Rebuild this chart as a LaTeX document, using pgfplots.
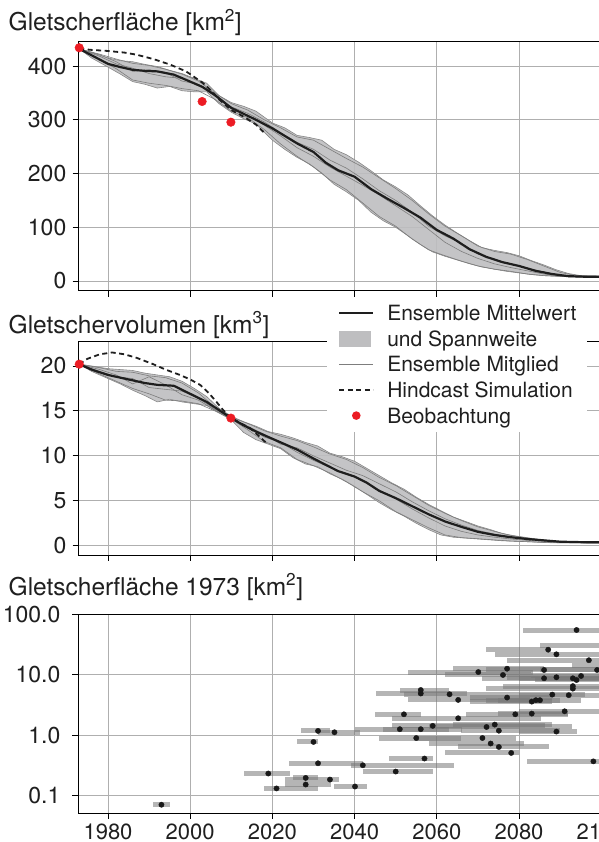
\documentclass[border=0pt]{standalone}
\usepackage{fontspec}
\setmainfont{TeX Gyre Heros}
\usepackage{pgfplots}
\pgfplotsset{compat=1.18}
\usepackage{pgfplotstable}
\usepgfplotslibrary{fillbetween}

\definecolor{meanc}{RGB}{30,30,30}
\definecolor{bandc}{RGB}{190,190,192}
\definecolor{edgec}{RGB}{135,135,135}
\definecolor{memc}{RGB}{125,125,125}
\definecolor{gridc}{RGB}{175,175,175}
\definecolor{obsc}{RGB}{236,28,36}
\definecolor{barc}{RGB}{120,120,120}
\definecolor{dotc}{RGB}{25,25,25}

% ---------- top panel: area ----------
\pgfplotstableread{
x y
1973 432
1976 420
1980 404
1983 398
1986 393
1989 391
1992 390
1996 384
2000 371
2003 361
2006 346
2010 322
2013 311
2016 300
2020 284
2023 270
2026 256
2030 240
2033 220
2036 206
2040 194
2044 171
2048 153
2052 136
2056 118
2060 95
2064 79
2068 59
2072 45
2076 35
2080 28
2084 19
2088 13
2092 9
2096 8
2100 8
}\Amean

\pgfplotstableread{
x up lo
1973 432 432
1976 425 415
1980 415 398
1983 410 385
1986 408 371
1989 403 366
1992 399 359
1995 392 362
1998 386 354
2001 377 352
2004 368 352
2007 345 330
2010 332 314
2013 325 302
2016 316 292
2020 294 262
2023 285 245
2026 271 230
2029 267 218
2032 262 201
2035 245 180
2038 235 166
2041 221 150
2044 205 128
2047 188 112
2050 175 100
2053 160 84
2056 140 68
2059 121 54
2062 104 46
2065 89 39
2068 75 32
2071 62 26
2074 57 22
2077 53 18
2080 47 15
2083 38 12
2086 30 10
2089 21 9
2092 14 8
2095 10 7.5
2100 9 7
}\Aband

\pgfplotstableread{
x a b c d
1973 432 432 432 432
1978 422 412 418 421
1982 413 395 404 408
1986 405 374 396 390
1990 401 368 386 393
1994 394 364 380 388
1998 385 358 377 372
2002 372 354 365 366
2006 350 338 344 348
2010 330 316 324 322
2014 318 304 312 308
2018 300 282 296 290
2022 285 255 276 270
2026 268 232 258 248
2030 262 212 245 232
2034 245 188 225 212
2038 228 170 210 195
2042 212 145 190 178
2046 192 120 168 160
2050 172 102 150 140
2054 150 78 128 120
2058 125 58 102 96
2062 102 47 84 72
2066 84 37 70 55
2070 65 28 50 42
2074 55 22 40 32
2078 50 18 32 25
2082 40 13 24 19
2086 28 10 17 13
2090 16 8.5 11 9.5
2094 10 7.5 8.5 8
2100 9 7 8 8
}\Amem

\pgfplotstableread{
x y
1973 432
1976 430
1980 428
1984 425
1987 421
1991 413
1995 403
1999 390
2003 369
2005 355
2007 338
2010 318
2012 310
2014 301
2016 291
2018 276
}\Ahind

\pgfplotstableread{
x y
1973 434
2002.9 334
2009.9 295.5
}\Aobs

% ---------- middle panel: volume ----------
\pgfplotstableread{
x y
1973 20.2
1976 19.6
1980 19.0
1983 18.7
1986 18.4
1989 18.1
1992 17.9
1996 17.8
2000 16.9
2004 16.0
2007 15.1
2010 14.2
2013 13.4
2016 12.7
2020 11.9
2023 11.3
2026 10.7
2030 9.7
2033 9.0
2036 8.3
2040 7.7
2043 7.0
2046 6.1
2050 5.3
2054 4.4
2058 3.5
2062 2.7
2066 2.1
2070 1.55
2074 1.2
2078 0.95
2082 0.75
2086 0.6
2090 0.45
2095 0.4
2100 0.38
}\Vmean

\pgfplotstableread{
x up lo
1973 20.2 20.2
1976 20.0 19.4
1980 19.7 18.6
1983 19.6 18.0
1986 19.5 17.3
1989 19.2 16.7
1992 19.0 16.0
1995 18.8 16.3
1998 18.3 16.0
2001 17.5 15.8
2004 16.6 15.6
2007 15.3 14.8
2010 14.4 14.0
2013 13.8 12.6
2016 13.3 11.8
2019 12.7 11.3
2022 12.4 10.8
2025 12.0 9.8
2028 11.5 9.1
2031 11.1 8.8
2034 10.3 8.0
2037 9.9 7.4
2040 9.4 6.6
2043 8.6 5.7
2046 7.8 4.8
2049 7.0 4.0
2052 6.3 3.3
2055 5.4 2.5
2058 4.6 1.8
2061 3.9 1.2
2064 3.2 0.95
2067 2.7 0.85
2070 2.2 0.75
2073 1.8 0.65
2076 1.35 0.55
2079 1.1 0.5
2082 0.9 0.45
2085 0.7 0.38
2088 0.55 0.33
2092 0.45 0.32
2100 0.4 0.3
}\Vband

\pgfplotstableread{
x a b c d
1973 20.2 20.2 20.2 20.2
1978 19.8 19.1 19.4 19.6
1982 19.4 18.3 18.8 19.0
1986 19.3 17.5 18.6 18.0
1990 18.9 16.9 17.6 18.8
1994 18.7 16.2 17.4 17.9
1998 18.1 16.1 17.2 16.8
2002 17.0 15.8 16.4 16.2
2006 15.4 15.0 15.2 15.1
2010 14.3 14.1 14.2 14.1
2014 13.6 12.9 13.2 13.3
2018 12.8 11.6 12.1 12.4
2022 12.2 10.9 11.5 11.3
2026 11.7 9.6 10.4 10.9
2030 11.0 8.9 9.5 10.0
2034 10.2 8.1 8.7 9.2
2038 9.6 7.1 8.0 8.4
2042 8.7 6.0 7.2 7.8
2046 7.6 5.0 6.2 6.9
2050 6.7 3.8 5.2 6.0
2054 5.6 2.9 4.1 4.9
2058 4.5 2.0 3.1 3.9
2062 3.6 1.2 2.2 3.0
2066 2.8 0.9 1.6 2.3
2070 2.1 0.78 1.2 1.7
2074 1.6 0.65 0.95 1.3
2078 1.15 0.52 0.75 1.0
2082 0.85 0.45 0.6 0.75
2086 0.6 0.38 0.5 0.55
2090 0.45 0.33 0.4 0.42
2100 0.4 0.3 0.38 0.38
}\Vmem

\pgfplotstableread{
x y
1973 20.2
1975 20.8
1978 21.3
1981 21.5
1984 21.3
1987 20.9
1991 20.2
1994 19.6
1997.5 19.0
2000 18.5
2002.4 17.9
2004.5 17.0
2006.4 16.0
2008 15.1
2010 14.2
2012 13.7
2014.5 13.1
2016.5 12.3
2018.6 11.4
}\Vhind

\pgfplotstableread{
x y
1973 20.2
2009.9 14.2
}\Vobs

% ---------- bottom panel: individual glaciers ----------
\pgfplotstableread{
x y lo hi
1993.0 0.071 1991.0 1995.1
2019.0 0.233 2013.2 2024.3
2021.0 0.132 2018.0 2031.0
2028.1 0.197 2025.1 2031.0
2028.1 0.153 2023.1 2034.2
2034.0 0.185 2023.1 2036.2
2040.1 0.142 2035.0 2043.0
2031.1 0.344 2024.0 2042.1
2042.0 0.319 2039.1 2064.2
2030.0 0.776 2026.0 2031.0
2031.1 1.18 2027.0 2034.0
2035.1 1.12 2031.2 2041.3
2050.0 0.251 2042.1 2059.0
2052.0 2.22 2045.0 2056.1
2057.0 0.412 2048.3 2059.0
2055.0 0.90 2046.0 2066.0
2065.2 1.91 2049.0 2085.3
2051.0 1.26 2040.1 2066.1
2056.1 1.26 2047.0 2063.0
2059.0 1.43 2049.0 2086.3
2072.1 1.37 2058.0 2093.0
2074.1 1.50 2064.0 2088.0
2075.1 1.19 2066.0 2090.0
2089.1 1.15 2080.0 2094.0
2071.1 0.90 2055.0 2079.3
2073.1 0.73 2058.0 2081.2
2075.1 0.64 2065.2 2087.2
2078.1 0.51 2062.0 2080.0
2098.1 0.37 2082.0 2100.0
2056.1 5.6 2051.0 2063.0
2056.1 4.9 2045.2 2067.3
2063.1 4.76 2052.0 2070.0
2065.2 3.84 2053.0 2082.7
2077.1 4.2 2068.0 2088.0
2083.1 3.6 2068.0 2088.0
2084.1 3.8 2075.0 2090.0
2085.1 3.8 2072.0 2095.0
2088.1 4.7 2070.0 2096.0
2092.1 4.6 2080.0 2100.0
2093.1 5.9 2072.0 2100.0
2093.1 6.5 2076.0 2100.0
2079.1 2.22 2067.0 2092.0
2083.1 2.28 2075.0 2092.0
2091.1 2.49 2080.0 2100.0
2070.1 11.1 2053.0 2083.5
2077.1 12.6 2064.0 2086.0
2076.1 9.93 2062.0 2083.0
2086.1 12.0 2072.0 2100.0
2086.1 8.75 2071.0 2100.0
2089.1 9.1 2077.0 2100.0
2093.1 8.75 2080.0 2100.0
2094.0 8.2 2084.0 2100.0
2095.1 9.55 2083.0 2100.0
2097.0 17.4 2077.0 2100.0
2099.0 12.0 2085.0 2100.0
2087.1 26.0 2072.0 2086.7
2089.1 21.8 2074.2 2100.0
2094.0 55.0 2080.9 2100.0
2102.0 30.7 2085.0 2102.0
2102.0 14.0 2093.0 2102.0
}\Gdata

\pgfplotsset{
  glac/.style={
    scale only axis, width=523.2pt, anchor=north west,
    xmin=1972.7, xmax=2100,
    axis x line*=box, axis y line*=left,
    xtick={1980,2000,2020,2040,2060,2080,2100},
    grid=major, major grid style={line width=0.9pt, draw=gridc},
    tick align=outside, tick pos=left,
    major tick length=5.5pt,
    tick style={line width=0.9pt, black},
    axis line style={line width=1pt, black},
    tick label style={font=\fontsize{23}{27}\selectfont, text=black!88},
    yticklabel style={anchor=east, inner sep=0pt, xshift=-6pt},
    /pgf/number format/assume math mode=true,
    /pgf/number format/1000 sep={},
    clip=false,
  },
  lineimg/.style={legend image code/.code={\path[draw=none,fill=none] (0pt,-8pt) rectangle (48pt,8pt); \draw[##1] (0pt,0pt) -- (34pt,0pt);}},
}

\begin{document}
\begin{tikzpicture}

% ===== Panel 1 =====
\node[anchor=base west, inner sep=0pt, font=\fontsize{24.5}{29}\selectfont, text=black!88] at (8.5pt,-31pt) {Gletscherfläche [km\textsuperscript{2}]};
\begin{axis}[glac, at={(78pt,-42pt)}, height=249pt,
  ymin=-18.6, ymax=444.7, ytick={0,100,200,300,400}, xticklabels={}]
  \addplot[name path=aup, draw=edgec, line width=0.6pt, forget plot] table[x=x, y=up] {\Aband};
  \addplot[name path=alo, draw=edgec, line width=0.6pt, forget plot] table[x=x, y=lo] {\Aband};
  \addplot[fill=bandc, fill opacity=0.9, draw=none, forget plot] fill between[of=aup and alo];
  \addplot[memc, line width=0.6pt, forget plot] table[x=x, y=a] {\Amem};
  \addplot[memc, line width=0.6pt, forget plot] table[x=x, y=b] {\Amem};
  \addplot[memc, line width=0.6pt, forget plot] table[x=x, y=c] {\Amem};
  \addplot[memc, line width=0.6pt, forget plot] table[x=x, y=d] {\Amem};
  \addplot[meanc, line width=2.2pt, forget plot] table[x=x, y=y] {\Amean};
  \addplot[meanc, line width=1.8pt, dash pattern=on 5pt off 3.5pt, forget plot] table[x=x, y=y] {\Ahind};
  \addplot[only marks, mark=*, mark size=4.3pt, color=obsc, forget plot] table[x=x, y=y] {\Aobs};
\end{axis}

% ===== Panel 2 =====
\node[anchor=base west, inner sep=0pt, font=\fontsize{24.5}{29}\selectfont, text=black!88] at (8.5pt,-333pt) {Gletschervolumen [km\textsuperscript{3}]};
\begin{axis}[glac, at={(78pt,-341.7pt)}, height=213.3pt,
  ymin=-1.03, ymax=22.7, ytick={0,5,10,15,20}, xticklabels={},
  legend style={at={(0.4759,1.2096)}, anchor=north west, draw=none, fill=white,
    inner xsep=11pt, inner ysep=8pt, font=\fontsize{21}{25}\selectfont,
    row sep=9.6pt, nodes={inner sep=0pt, text height=15.5pt, text depth=0.5pt, text=black!88}},
  legend cell align=left]
  \addplot[name path=vup, draw=edgec, line width=0.6pt, forget plot] table[x=x, y=up] {\Vband};
  \addplot[name path=vlo, draw=edgec, line width=0.6pt, forget plot] table[x=x, y=lo] {\Vband};
  \addplot[fill=bandc, fill opacity=0.9, draw=none, forget plot] fill between[of=vup and vlo];
  \addplot[memc, line width=0.6pt, forget plot] table[x=x, y=a] {\Vmem};
  \addplot[memc, line width=0.6pt, forget plot] table[x=x, y=b] {\Vmem};
  \addplot[memc, line width=0.6pt, forget plot] table[x=x, y=c] {\Vmem};
  \addplot[memc, line width=0.6pt, forget plot] table[x=x, y=d] {\Vmem};
  \addplot[meanc, line width=2.2pt, forget plot] table[x=x, y=y] {\Vmean};
  \addplot[meanc, line width=1.8pt, dash pattern=on 5pt off 3.5pt, forget plot] table[x=x, y=y] {\Vhind};
  \addplot[only marks, mark=*, mark size=4.3pt, color=obsc, forget plot] table[x=x, y=y] {\Vobs};
  \addlegendimage{lineimg, meanc, line width=2.2pt}
  \addlegendentry{Ensemble Mittelwert}
  \addlegendimage{legend image code/.code={\path[draw=none,fill=none] (0pt,-8pt) rectangle (48pt,8pt); \fill[bandc, draw=none] (0pt,-8pt) rectangle (32pt,8pt);}}
  \addlegendentry{und Spannweite}
  \addlegendimage{lineimg, memc, line width=0.7pt}
  \addlegendentry{Ensemble Mitglied}
  \addlegendimage{lineimg, meanc, line width=1.8pt, dash pattern=on 5pt off 3.5pt}
  \addlegendentry{Hindcast Simulation}
  \addlegendimage{legend image code/.code={\path[draw=none,fill=none] (0pt,-8pt) rectangle (48pt,8pt); \fill[obsc, draw=none] (17pt,0pt) circle (4.3pt);}}
  \addlegendentry{Beobachtung}
\end{axis}

% ===== Panel 3 =====
\node[anchor=base west, inner sep=0pt, font=\fontsize{24.5}{29}\selectfont, text=black!88] at (8.5pt,-595pt) {Gletscherfläche 1973 [km\textsuperscript{2}]};
\begin{axis}[glac, at={(78pt,-614.3pt)}, height=199pt,
  ymode=log, ymin=0.0512, ymax=100, ytick={0.1,1,10,100},
  yticklabels={0.1,1.0,10.0,100.0}, yminorticks=false,
  yticklabel style={xshift=-6pt},
  xticklabel style={anchor=base, inner sep=0pt, text depth=0pt, yshift=-21pt, font=\fontsize{22}{26}\selectfont}]
  \addplot[only marks, mark=*, mark size=2.65pt, color=dotc,
    error bars/.cd, x dir=both, x explicit, error mark=none,
    error bar style={line width=5pt, color=barc, opacity=0.55}]
    table[x=x, y=y, x error plus expr=\thisrow{hi}-\thisrow{x}, x error minus expr=\thisrow{x}-\thisrow{lo}] {\Gdata};
\end{axis}

\pgfresetboundingbox
\path[use as bounding box] (0pt,0pt) rectangle (598pt,-842pt);
\end{tikzpicture}
\end{document}
